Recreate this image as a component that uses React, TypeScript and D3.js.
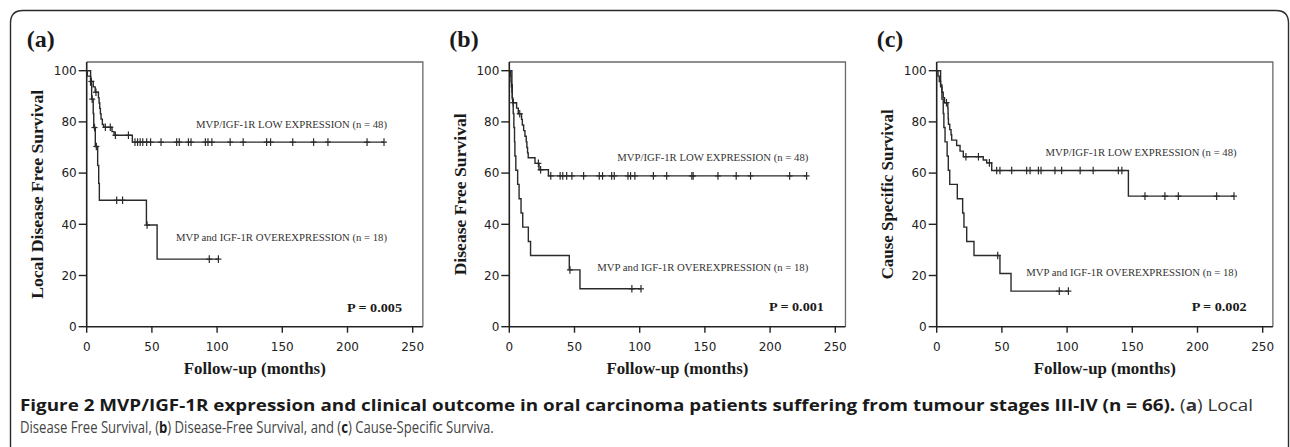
import React, { useLayoutEffect, useRef, useState } from 'react';
import * as d3 from 'd3';

// ---------- data ----------
const timeTicks = [0, 50, 100, 150, 200, 250];
const survivalTicks = [0, 20, 40, 60, 80, 100];
const panelLetters = ['(a)', '(b)', '(c)'];
const yTitles = ['Local Disease Free Survival', 'Disease Free Survival', 'Cause Specific Survival'];
const pValues = ['P = 0.005', 'P = 0.001', 'P = 0.002'];
const lowLabel = 'MVP/IGF-1R LOW EXPRESSION (n = 48)';
const overLabel = 'MVP and IGF-1R OVEREXPRESSION (n = 18)';
const xTitle = 'Follow-up (months)';

// Kaplan-Meier steps: [months, survival %]
const lowStepsA: [number, number][] = [[0,100],[0.5,97.9],[3,95.8],[5,93.7],[6.5,91.6],[9,89.5],[9.5,87.4],[10,85.3],[10.5,83.2],[11,81.1],[12,79.0],[13,77.9],[19.4,76.2],[21,74.8],[35,72.1]];
const lowCensorA = [3.6,7.1,14.3,18.1,22,32,37,39,41,43,46,49,57,69,71,78,80,91,93,96,110,120,138,141,158,174,185,215,228];
const overStepsA: [number, number][] = [[0,100],[3,94.4],[3.8,88.9],[5,83.3],[5.4,77.8],[6.6,70.4],[8.4,63],[9.2,56],[9.7,49.4],[45.8,39.7],[54,26.4]];
const overCensorA = [4.2,6,7.4,23,27.5,46.3,94,101];

const lowStepsB: [number, number][] = [[0,100],[1,97.9],[1.3,95.8],[1.6,93.7],[2,91.6],[2.3,89.5],[2.6,87.5],[5.6,85.4],[6.9,83.2],[9.4,81.0],[10,78.8],[11,76.6],[12,74.4],[13,72.2],[13.5,70.0],[14,67.9],[14.5,66.0],[19.7,63.8],[22.8,61.3],[30,58.9]];
const lowCensorB = [3,8,22.3,24,31.8,39,41,44,48,57,69,71.5,78.5,80.5,91,93,96.3,110.5,120.7,140,141,160,174,185,215,228];
const overStepsB: [number, number][] = [[0,100],[2,94.4],[2.3,88.9],[3,83.3],[3.5,77.8],[4,72.2],[4.3,66.7],[5,61.1],[6.4,55.6],[7.5,50],[9,44.4],[10.3,38.9],[14.6,33.3],[16.3,27.8],[46,22.2],[54.2,14.8]];
const overCensorB = [46.5,94,101];

const lowStepsC: [number, number][] = [[0,100],[1,97.9],[2,95.8],[3,93.7],[4,91.6],[5,89.5],[6,87.5],[8.5,85.4],[8.7,83.3],[8.8,81.2],[9,79.1],[10,77.0],[11,75.0],[11.5,72.9],[15.3,70.8],[17.9,68.6],[20.4,66.4],[35.7,65.1],[38.3,64.0],[42.2,61.0],[147,51.0]];
const lowCensorC = [7.5,22.4,32,40.4,46,48.5,57.5,69,71.6,78,80,90.7,95.8,110,120,139.3,142,159.7,175,185.3,214.7,228];
const overStepsC: [number, number][] = [[0,100],[3,94.4],[4,88.9],[5,83.3],[5.5,77.8],[6.4,72.2],[8,66.7],[8.9,61.1],[10,55.6],[15.8,50],[19.9,44.4],[20.9,38.9],[23,33.3],[28.6,27.8],[48.5,20.8],[57,13.9]];
const overCensorC = [46.8,94,101];

const panels = [
  { low: lowStepsA, lowC: lowCensorA, over: overStepsA, overC: overCensorA },
  { low: lowStepsB, lowC: lowCensorB, over: overStepsB, overC: overCensorB },
  { low: lowStepsC, lowC: lowCensorC, over: overStepsC, overC: overCensorC },
];

// ---------- layout ----------
const W = 1290, H = 447;
const panelX0 = [86.7, 509.3, 936.7];
const Y0 = 326.7, Y100 = 70.7;
const pxPerMonth = 1.304;
const lowLabelPos = [[230.3, 77.8], [229.3, 64.7], [230, 66.7]];
const overLabelPos = [[230.3, 33.3], [229.3, 21.8], [230.5, 19.8]];
const pPos = [[241.8, 5.7], [241.3, 6.1], [237.7, 6.1]];
const yTitleLen = [209, 162, 170];

const survAt = (steps: [number, number][], t: number) => {
  let s = steps[0][1];
  for (const [tt, ss] of steps) if (tt <= t) s = ss;
  return s;
};

const serif = '"Liberation Serif", "Times New Roman", serif';
const sans = '"DejaVu Sans", Verdana, sans-serif';

function Panel({ i }: { i: number }) {
  const x0 = panelX0[i];
  const x = d3.scaleLinear().domain([0, 250]).range([x0, x0 + 250 * pxPerMonth]);
  const y = d3.scaleLinear().domain([0, 100]).range([Y0, Y100]);
  const p = panels[i];
  const boxRight = x(257.8);
  const boxTop = y(103.4);
  const line = d3.line<[number, number]>().x(d => x(d[0])).y(d => y(d[1])).curve(d3.curveStepAfter);
  const curve = (steps: [number, number][], cens: number[]) => {
    const end = Math.max(steps[steps.length - 1][0], d3.max(cens) ?? 0);
    const pts: [number, number][] = [...steps, [end, steps[steps.length - 1][1]]];
    return (
      <g>
        <path d={line(pts) ?? ''} fill="none" stroke="#2a2a2a" strokeWidth={1.4} />
        {cens.map((c, k) => {
          const cx = x(c), cy = y(survAt(steps, c));
          return (
            <g key={k} stroke="#2a2a2a" strokeWidth={1.2}>
              <line x1={cx} x2={cx} y1={cy - 3.8} y2={cy + 3.8} />
              <line x1={cx - 3} x2={cx + 3} y1={cy} y2={cy} />
            </g>
          );
        })}
      </g>
    );
  };
  return (
    <g>
      <path d={`M${x0},${boxTop} H${boxRight} V${Y0}`} fill="none" stroke="#6a6a6a" strokeWidth={1.3} />
      <line x1={x0} x2={x0} y1={boxTop} y2={Y0} stroke="#222" strokeWidth={1.6} />
      <line x1={x0} x2={boxRight} y1={Y0} y2={Y0} stroke="#222" strokeWidth={1.6} />
      {survivalTicks.map(v => (
        <g key={'y' + v}>
          <line x1={x0 - 8} x2={x0} y1={y(v)} y2={y(v)} stroke="#222" strokeWidth={1.4} />
          <text x={x0 - 10} y={y(v) + 4.3} textAnchor="end" fontFamily={sans} fontSize={12} fill="#222">{v}</text>
        </g>
      ))}
      {timeTicks.map(v => (
        <g key={'x' + v}>
          <line x1={x(v)} x2={x(v)} y1={Y0} y2={Y0 + 6} stroke="#222" strokeWidth={1.4} />
          <text x={x(v)} y={350.5} textAnchor="middle" fontFamily={sans} fontSize={12} fill="#222">{v}</text>
        </g>
      ))}
      <text x={(x0 + boxRight) / 2} y={373.5} textAnchor="middle" fontFamily={serif} fontWeight="bold" fontSize={17} fill="#1a1a1a" textLength={142} lengthAdjust="spacingAndGlyphs">{xTitle}</text>
      <text transform={`translate(${x0 - 43.5},${(boxTop + Y0) / 2}) rotate(-90)`} textAnchor="middle" fontFamily={serif} fontWeight="bold" fontSize={17} fill="#1a1a1a" textLength={yTitleLen[i]} lengthAdjust="spacingAndGlyphs">{yTitles[i]}</text>
      <text x={x0 - 60} y={47} fontFamily={serif} fontWeight="bold" fontSize={24} fill="#1a1a1a">{panelLetters[i]}</text>
      {curve(p.low, p.lowC)}
      {curve(p.over, p.overC)}
      <text x={x(lowLabelPos[i][0])} y={y(lowLabelPos[i][1])} textAnchor="end" fontFamily={serif} fontSize={10.5} fill="#333" textLength={191} lengthAdjust="spacingAndGlyphs">{lowLabel}</text>
      <text x={x(overLabelPos[i][0])} y={y(overLabelPos[i][1])} textAnchor="end" fontFamily={serif} fontSize={10.5} fill="#333" textLength={211} lengthAdjust="spacingAndGlyphs">{overLabel}</text>
      <text x={x(pPos[i][0])} y={y(pPos[i][1])} textAnchor="end" fontFamily={serif} fontWeight="bold" fontSize={13.5} fill="#1a1a1a" textLength={55} lengthAdjust="spacingAndGlyphs">{pValues[i]}</text>
    </g>
  );
}

const CAP_X = 20;
const capTargets = [1233, 474];

export default function App() {
  const capFont = '"Open Sans", "Noto Sans", sans-serif';
  const r1 = useRef<SVGTextElement>(null);
  const r2 = useRef<SVGTextElement>(null);
  const [scales, setScales] = useState<[number, number]>([1, 1]);
  useLayoutEffect(() => {
    const w1 = r1.current ? r1.current.getBBox().width : 0;
    const w2 = r2.current ? r2.current.getBBox().width : 0;
    setScales([w1 ? capTargets[0] / w1 : 1, w2 ? capTargets[1] / w2 : 1]);
  }, []);
  const tf = (s: number) => `translate(${CAP_X},0) scale(${s},1) translate(${-CAP_X},0)`;
  return (
    <svg width={W} height={H} style={{ position: 'absolute', left: 0, top: 0, background: '#fff' }}>
      <rect x={0} y={0} width={W} height={H} fill="#fff" />
      <path d={`M10.5,470 V23 Q10.5,10.5 23,10.5 H1276 Q1288.5,10.5 1288.5,23 V470`} fill="none" stroke="#2b2b2b" strokeWidth={1.4} />
      {[0, 1, 2].map(i => <Panel key={i} i={i} />)}
      <g transform={tf(scales[0])}>
        <text ref={r1} x={CAP_X} y={411} fontFamily={capFont} fontSize={15.5} fill="#333">
          <tspan fontWeight="bold" fill="#1a1a1a">Figure 2 MVP/IGF-1R expression and clinical outcome in oral carcinoma patients suffering from tumour stages III-IV (n = 66).</tspan>
          <tspan> (</tspan><tspan fontWeight="bold">a</tspan><tspan>) Local</tspan>
        </text>
      </g>
      <g transform={tf(scales[1])}>
        <text ref={r2} x={CAP_X} y={433} fontFamily={capFont} fontSize={15.5} fill="#444">
          <tspan>Disease Free Survival, (</tspan><tspan fontWeight="bold" fill="#1a1a1a">b</tspan><tspan>) Disease-Free Survival, and (</tspan><tspan fontWeight="bold" fill="#1a1a1a">c</tspan><tspan>) Cause-Specific Surviva.</tspan>
        </text>
      </g>
    </svg>
  );
}
